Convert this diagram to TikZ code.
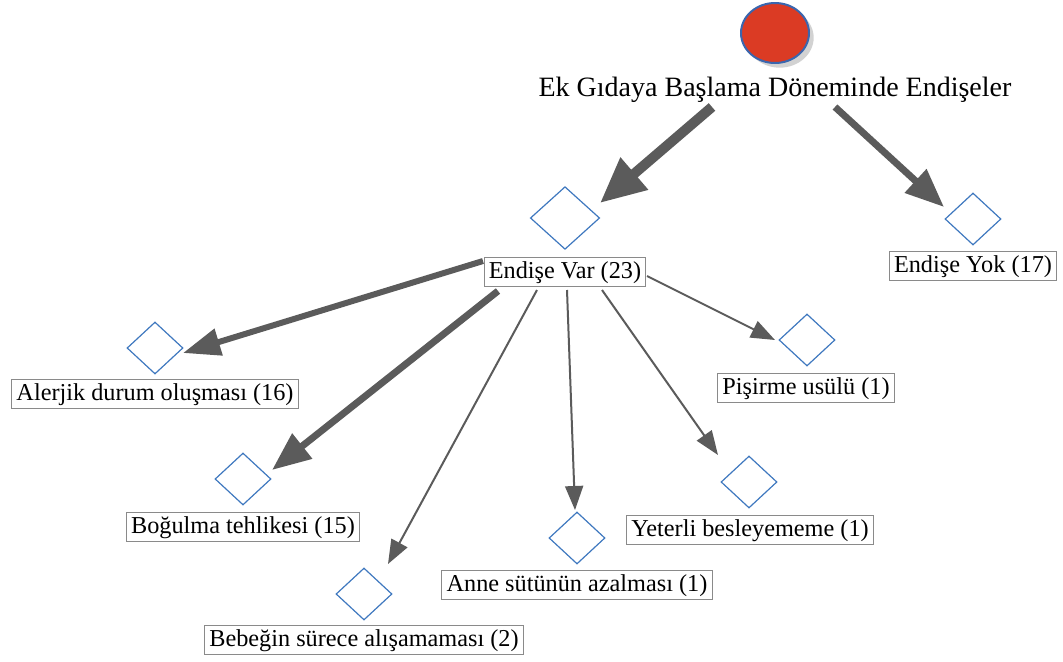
\documentclass[tikz,border=0pt]{standalone}
\usepackage{fontspec}
\setmainfont{Liberation Serif}
\usetikzlibrary{arrows.meta,shapes.geometric,shadows,calc}

\definecolor{arrowgray}{HTML}{5B5B5B}
\definecolor{boxgray}{HTML}{8A8A8A}
\definecolor{diablue}{HTML}{3F78BF}
\definecolor{rootred}{HTML}{DB3B24}
\definecolor{rootblue}{HTML}{3A66AE}

\tikzset{
  every node/.style={font=\fontsize{18.2}{20}\selectfont},
  labelbox/.style={draw=boxgray, line width=0.8pt, fill=white, inner xsep=3.5pt,
    inner ysep=2pt, text height=13.5pt, text depth=4pt},
  choice/.style={diamond, draw=diablue, line width=0.9pt, inner sep=0pt,
    minimum width=42pt, minimum height=39pt},
  bigchoice/.style={choice, minimum width=52pt, minimum height=47pt},
  flow/.style={draw=arrowgray, line width=1.5pt,
    -{Triangle[length=18pt,width=13.5pt]}, arrowgray},
  flowmid/.style={draw=arrowgray, line width=4.5pt,
    -{Triangle[length=28pt,width=20pt]}, arrowgray},
  flowthick/.style={draw=arrowgray, line width=5.2pt,
    -{Triangle[length=29pt,width=23pt]}, arrowgray},
  flowbig/.style={draw=arrowgray, line width=7.5pt,
    -{Triangle[length=34pt,width=30pt]}, arrowgray},
}

\begin{document}
\begin{tikzpicture}[x=0.75pt, y=-0.75pt]
  \useasboundingbox (0,0) rectangle (1063,661);

  % root
  \node[ellipse, draw=rootblue, line width=1.5pt, fill=rootred,
        minimum width=51pt, minimum height=45pt,
        drop shadow={shadow xshift=3.5pt, shadow yshift=-3.5pt, fill=black!35}]
        (root) at (775,33) {};
  \node[font=\fontsize{21}{24}\selectfont] (title) at (775,90)
        {Ek Gıdaya Başlama Döneminde Endişeler};

  % first level
  \node[bigchoice] (d1) at (565,218) {};
  \node[labelbox] (var) at (565,272) {Endişe Var (23)};
  \node[choice] (dYok) at (973,219) {};
  \node[labelbox] (yok) at (973,266) {Endişe Yok (17)};

  % second level
  \node[choice] (dAl) at (155,348) {};
  \node[labelbox] (al) at (155,394) {Alerjik durum oluşması (16)};
  \node[choice] (dBo) at (243,479) {};
  \node[labelbox] (bo) at (243,527) {Boğulma tehlikesi (15)};
  \node[choice] (dBe) at (364,594) {};
  \node[labelbox] (be) at (364,640) {Bebeğin sürece alışamaması (2)};
  \node[choice] (dAn) at (577,538) {};
  \node[labelbox] (an) at (577,585) {Anne sütünün azalması (1)};
  \node[choice] (dYe) at (749,482) {};
  \node[labelbox] (ye) at (750,530) {Yeterli besleyememe (1)};
  \node[choice] (dPi) at (807,340) {};
  \node[labelbox] (pi) at (806,388) {Pişirme usülü (1)};

  % connectors
  \draw[flowbig]   ($(title.center)+(-63,17)$) -- ($(d1.center)+(35,-15)$);
  \draw[flowthick] ($(title.center)+(60,17)$)  -- ($(dYok.center)+(-29,-12)$);

  \draw[flowmid]   ($(var.center)+(-82,-11)$) -- ($(dAl.center)+(28,5)$);
  \draw[flowthick] ($(var.center)+(-67,19)$)  -- ($(dBo.center)+(29,-9)$);
  \draw[flow]      ($(var.center)+(-28,18)$)  -- ($(dBe.center)+(24,-30)$);
  \draw[flow]      ($(var.center)+(2,18)$)    -- ($(dAn.center)+(-2,-28)$);
  \draw[flow]      ($(var.center)+(37,18)$)   -- ($(dYe.center)+(-31,-27)$);
  \draw[flow]      ($(var.center)+(82,4)$)    -- ($(dPi.center)+(-32,0)$);
\end{tikzpicture}
\end{document}
